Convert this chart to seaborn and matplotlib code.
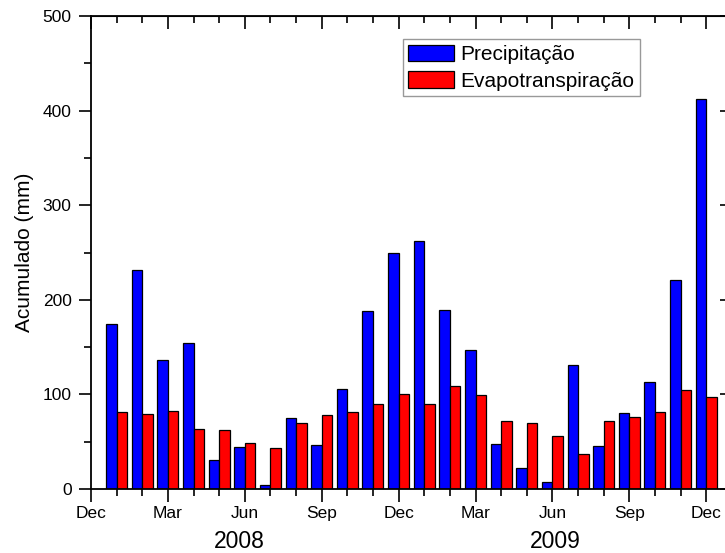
import matplotlib
matplotlib.use("Agg")
import matplotlib.pyplot as plt
import seaborn as sns
import pandas as pd
from matplotlib.ticker import MultipleLocator

months = ["Jan 2008", "Feb 2008", "Mar 2008", "Apr 2008", "May 2008", "Jun 2008",
          "Jul 2008", "Aug 2008", "Sep 2008", "Oct 2008", "Nov 2008", "Dec 2008",
          "Jan 2009", "Feb 2009", "Mar 2009", "Apr 2009", "May 2009", "Jun 2009",
          "Jul 2009", "Aug 2009", "Sep 2009", "Oct 2009", "Nov 2009", "Dec 2009"]
precipitacao = [175, 232, 136, 154, 31, 44, 4, 75, 47, 106, 188, 250,
                262, 189, 147, 48, 22, 7, 131, 45, 80, 113, 221, 412]
evapo = [81, 79, 82, 63, 62, 49, 43, 70, 78, 81, 90, 100,
         90, 109, 99, 72, 70, 56, 37, 72, 76, 81, 105, 97]
tick_labels = ["Dec", "Mar", "Jun", "Sep", "Dec", "Mar", "Jun", "Sep", "Dec"]
year_labels = ["2008", "2009"]
series_names = ["Precipitação", "Evapotranspiração"]

df = pd.DataFrame({
    "month": months * 2,
    "value": precipitacao + evapo,
    "series": [series_names[0]] * len(months) + [series_names[1]] * len(months),
})

sns.set_style("ticks")
plt.rcParams["font.family"] = ["Liberation Sans", "DejaVu Sans"]
plt.rcParams["text.color"] = "black"
plt.rcParams["axes.labelcolor"] = "black"
plt.rcParams["xtick.color"] = "black"
plt.rcParams["ytick.color"] = "black"
plt.rcParams["xtick.labelcolor"] = "black"
plt.rcParams["ytick.labelcolor"] = "black"

fig = plt.figure(figsize=(7.25, 5.53), dpi=100)
ax = fig.add_axes([0.1255, 0.1157, 0.884, 0.855])

sns.barplot(data=df, x="month", y="value", hue="series", order=months,
            hue_order=series_names, palette=["#0000FF", "#FF0000"], saturation=1,
            edgecolor="black", linewidth=0.9, width=0.82, ax=ax, legend=True)

ax.set_xlim(-1, 24)
ax.set_ylim(0, 500)

ticks_x = [-1, 2, 5, 8, 11, 14, 17, 20, 23]
ax.set_xticks(ticks_x)
ax.set_xticklabels(tick_labels, fontsize=12.5, color="black")
ax.xaxis.set_minor_locator(MultipleLocator(1))
ax.yaxis.set_major_locator(MultipleLocator(100))
ax.yaxis.set_minor_locator(MultipleLocator(50))
ax.tick_params(axis="y", labelsize=12.5, labelcolor="black")

ax.tick_params(which="major", length=9, width=1.2, color="black")
ax.tick_params(which="minor", length=5, width=1.2, color="black")
ax.tick_params(axis="x", which="both", direction="out", top=False, pad=3)
ax.tick_params(axis="y", which="both", direction="out", right=False, pad=5)

axt = ax.secondary_xaxis("top")
axt.set_xticks(ticks_x)
axt.set_xticklabels([])
axt.xaxis.set_minor_locator(MultipleLocator(1))
axt.tick_params(which="major", direction="in", length=9, width=1.2, color="black")
axt.tick_params(which="minor", direction="in", length=5, width=1.2, color="black")
axr = ax.secondary_yaxis("right")
axr.yaxis.set_major_locator(MultipleLocator(100))
axr.yaxis.set_minor_locator(MultipleLocator(50))
axr.set_yticklabels([])
axr.tick_params(which="major", direction="in", length=9, width=1.2, color="black")
axr.tick_params(which="minor", direction="in", length=5, width=1.2, color="black")

for sp in ax.spines.values():
    sp.set_visible(True)
    sp.set_linewidth(1.3)
    sp.set_color("black")

ax.set_xlabel("")
ax.set_ylabel("Acumulado (mm)", fontsize=15, labelpad=6, color="black")

trans = ax.get_xaxis_transform()
ax.text(4.8, -0.11, year_labels[0], transform=trans, color="black",
        ha="center", va="center", fontsize=16.5)
ax.text(17.1, -0.11, year_labels[1], transform=trans, color="black",
        ha="center", va="center", fontsize=16.5)

leg = ax.legend(loc="upper left", bbox_to_anchor=(0.487, 0.951), borderaxespad=0,
                fontsize=15, frameon=True, fancybox=False, handlelength=2.2,
                handleheight=0.87, handletextpad=0.3, labelspacing=0.33,
                borderpad=0.25)
leg.get_frame().set_edgecolor("#808080")
leg.get_frame().set_linewidth(1.0)
for t in leg.get_texts():
    t.set_color("black")
for h in leg.legend_handles:
    h.set_edgecolor("black")

fig.savefig("out.png", dpi=100)
